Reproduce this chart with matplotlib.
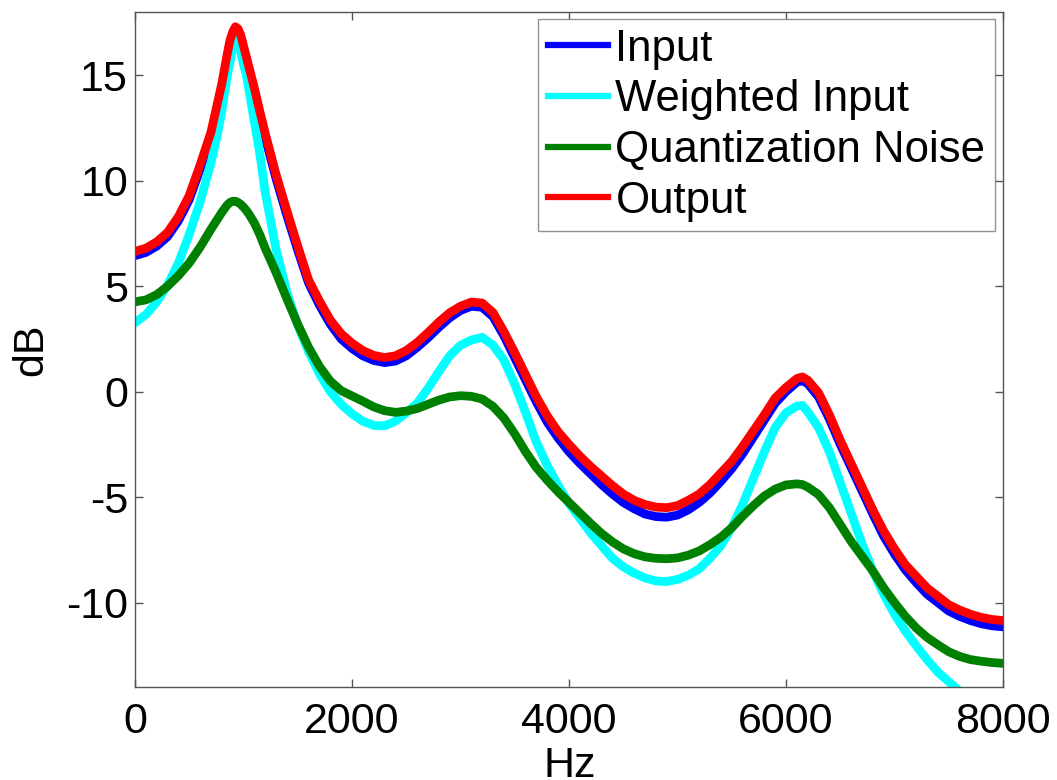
import matplotlib
matplotlib.use("Agg")
import matplotlib.pyplot as plt

hz = [0, 100, 200, 300, 400, 500, 600, 700, 750, 800, 850, 875, 900, 925, 950, 975, 1000, 1025, 1050, 1100, 1150, 1200,
      1300, 1400, 1500, 1600, 1700, 1800, 1900, 2000, 2100, 2200, 2300, 2400, 2500, 2600, 2700, 2800,
      2900, 3000, 3100, 3200, 3300, 3400, 3500, 3600, 3700, 3800, 3900, 4000, 4100, 4200, 4300, 4400,
      4500, 4600, 4700, 4800, 4900, 5000, 5100, 5200, 5300, 5400, 5500, 5600, 5700, 5800, 5900, 6000,
      6100, 6150, 6200, 6300, 6400, 6500, 6600, 6700, 6800, 6900, 7000, 7100, 7200, 7300, 7400, 7500,
      7600, 7700, 7800, 7900, 8000]

input_db = [6.45, 6.6, 6.9, 7.35, 8.1, 9.1, 10.55, 12.1, 13.25, 14.4, 15.8, 16.45, 16.85, 17.1, 17.0, 16.7, 16.2, 15.7, 15.2, 14.2, 13.1, 12.05,
            10.1, 8.35, 6.7, 5.15, 4.1, 3.2, 2.5, 2.05, 1.7, 1.48, 1.38, 1.45, 1.7, 2.1, 2.55, 3.05,
            3.5, 3.85, 4.05, 4.0, 3.55, 2.65, 1.6, 0.55, -0.5, -1.45, -2.2, -2.85, -3.4, -3.9, -4.4, -4.85,
            -5.25, -5.55, -5.8, -5.92, -5.95, -5.85, -5.6, -5.25, -4.8, -4.25, -3.65, -2.95, -2.15, -1.35, -0.55, 0.0,
            0.45, 0.52, 0.38, -0.25, -1.3, -2.5, -3.6, -4.7, -5.8, -6.85, -7.7, -8.45, -9.05, -9.6, -10.0, -10.4,
            -10.65, -10.85, -11.0, -11.1, -11.15]

weighted_db = [3.27, 3.65, 4.25, 5.05, 6.1, 7.45, 9.0, 10.85, 11.95, 13.3, 14.95, 15.6, 16.3, 16.8, 16.7, 16.1, 15.5, 15.05, 14.3, 12.8, 11.3, 9.45,
               6.75, 4.7, 3.15, 1.9, 0.85, 0.0, -0.6, -1.05, -1.4, -1.6, -1.62, -1.4, -1.0, -0.55, 0.15, 0.95,
               1.7, 2.2, 2.45, 2.58, 2.2, 1.5, 0.35, -1.0, -2.4, -3.5, -4.45, -5.3, -6.0, -6.7, -7.3, -7.9,
               -8.3, -8.6, -8.83, -8.97, -9.0, -8.9, -8.7, -8.4, -7.9, -7.3, -6.45, -5.35, -4.1, -2.85, -1.7, -1.0,
               -0.68, -0.65, -0.95, -1.7, -2.85, -4.3, -5.75, -7.2, -8.5, -9.6, -10.55, -11.35, -12.05, -12.7, -13.3, -13.75,
               -14.2, -14.6, -15.0, -15.3, -15.6]

noise_db = [4.26, 4.35, 4.6, 5.0, 5.5, 6.1, 6.85, 7.7, 8.1, 8.5, 8.85, 8.97, 9.03, 9.03, 8.97, 8.88, 8.75, 8.6, 8.42, 8.0, 7.45, 6.8,
            5.65, 4.4, 3.2, 2.1, 1.2, 0.5, 0.05, -0.2, -0.45, -0.72, -0.9, -0.98, -0.92, -0.8, -0.6, -0.4,
            -0.25, -0.19, -0.22, -0.35, -0.7, -1.25, -2.0, -2.85, -3.6, -4.2, -4.75, -5.25, -5.75, -6.25, -6.72, -7.12,
            -7.45, -7.68, -7.83, -7.9, -7.92, -7.88, -7.75, -7.55, -7.25, -6.9, -6.45, -5.9, -5.4, -4.95, -4.62, -4.42,
            -4.37, -4.4, -4.52, -4.88, -5.5, -6.3, -7.1, -7.8, -8.5, -9.3, -10.0, -10.65, -11.2, -11.65, -12.0, -12.33,
            -12.55, -12.7, -12.78, -12.84, -12.88]

output_db = [6.65, 6.8, 7.1, 7.55, 8.3, 9.3, 10.75, 12.3, 13.45, 14.6, 16.0, 16.65, 17.05, 17.3, 17.2, 16.9, 16.4, 15.9, 15.4, 14.4, 13.3, 12.25,
             10.3, 8.57, 6.9, 5.3, 4.3, 3.4, 2.75, 2.3, 1.95, 1.72, 1.62, 1.7, 1.95, 2.33, 2.8, 3.3,
             3.74, 4.05, 4.25, 4.2, 3.75, 2.85, 1.85, 0.8, -0.25, -1.15, -1.9, -2.5, -3.05, -3.55, -4.0, -4.45,
             -4.85, -5.15, -5.35, -5.47, -5.5, -5.4, -5.15, -4.85, -4.4, -3.85, -3.3, -2.6, -1.85, -1.1, -0.3, 0.2,
             0.62, 0.7, 0.55, -0.05, -1.1, -2.3, -3.4, -4.5, -5.6, -6.6, -7.45, -8.2, -8.75, -9.3, -9.7, -10.1,
             -10.35, -10.55, -10.7, -10.8, -10.85]

labels = ["Input", "Weighted Input", "Quantization Noise", "Output"]
xticks = [0, 2000, 4000, 6000, 8000]
yticks = [-10, -5, 0, 5, 10, 15]

plt.rcParams['font.family'] = ['Liberation Sans', 'DejaVu Sans']

W, H = 1057, 780
fig = plt.figure(figsize=(W / 100, H / 100), dpi=100)
ax = fig.add_axes([135 / W, 1 - 687 / H, (1003 - 135) / W, (687 - 12) / H])

lw = 6.3
ax.plot(hz, input_db, color='#0000FF', lw=lw, label=labels[0])
ax.plot(hz, weighted_db, color='#00FFFF', lw=lw, label=labels[1])
ax.plot(hz, noise_db, color='#008000', lw=lw, label=labels[2])
ax.plot(hz, output_db, color='#FF0000', lw=lw, label=labels[3])

ax.set_xlim(0, 8000)
ax.set_ylim(-14, 18)
ax.set_xticks(xticks)
ax.set_yticks(yticks)
ax.set_xticklabels([str(t) for t in xticks])
ax.set_yticklabels([str(t) for t in yticks])

axcol = '#555555'
for s in ax.spines.values():
    s.set_color(axcol)
    s.set_linewidth(1.0)
ax.tick_params(direction='in', length=6, width=1.0, color=axcol, labelsize=31,
               top=True, right=True, labelcolor='black')
ax.tick_params(axis='x', pad=11)
ax.tick_params(axis='y', pad=5)

fig.text(31 / W, 1 - 350 / H, 'dB', rotation=90, ha='center', va='center', fontsize=31)
fig.text(570 / W, 1 - 777 / H, 'Hz', ha='center', va='baseline', fontsize=31)

leg = ax.legend(loc='upper right', bbox_to_anchor=((995 - 135) / 868, (687 - 19) / 675),
                borderaxespad=0, fontsize=31.5, frameon=True, fancybox=False,
                handlelength=1.37, handletextpad=0.18, labelspacing=0.22, borderpad=0.22)
leg.get_frame().set_edgecolor('#777777')
leg.get_frame().set_linewidth(1.0)
for l in leg.get_lines():
    l.set_linewidth(4.5)

fig.savefig('out.png', dpi=100)
